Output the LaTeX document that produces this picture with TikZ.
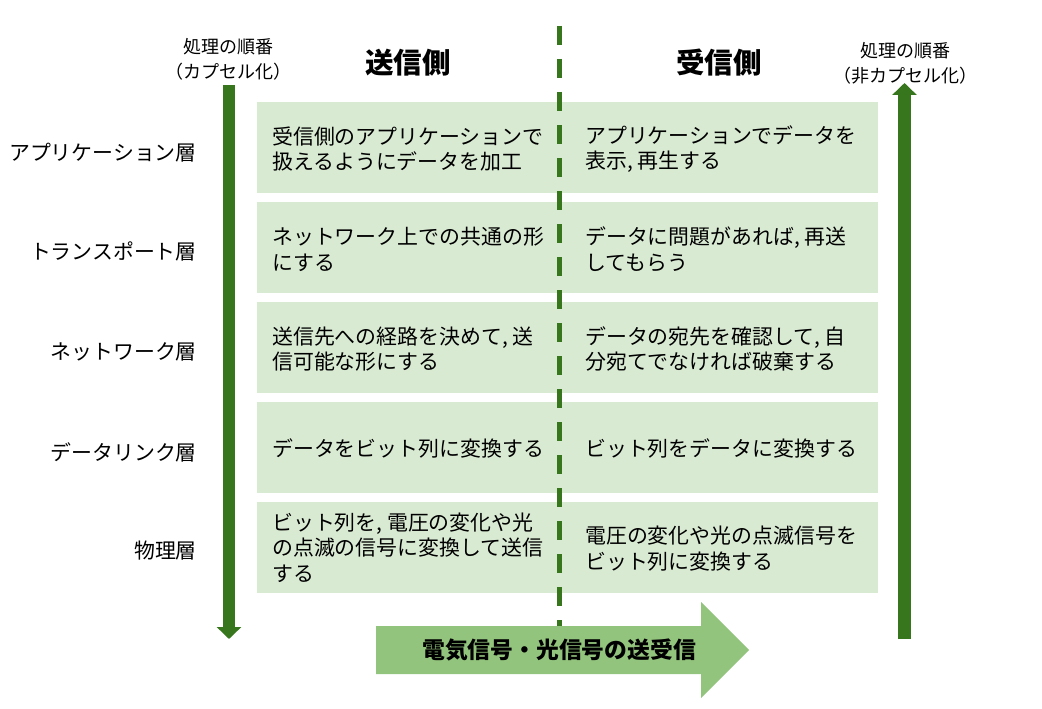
\documentclass[tikz,border=0pt]{standalone}
\usepackage{fontspec}
\setmainfont{Noto Sans CJK JP}
\usetikzlibrary{arrows.meta}
\definecolor{boxfill}{RGB}{217,234,211}
\definecolor{dkgreen}{RGB}{56,118,29}
\definecolor{arrowfill}{RGB}{147,196,125}
\begin{document}
\begin{tikzpicture}[x=1pt,y=-1pt,
  rowbox/.style={draw=none,fill=boxfill,rectangle,anchor=north west,minimum width=621pt,minimum height=91pt,inner sep=0pt},
  celltext/.style={anchor=west,align=left,inner sep=0pt,font=\fontsize{20.9}{25.5}\selectfont},
  layerlabel/.style={anchor=east,inner sep=0pt,font=\fontsize{20.9}{25}\selectfont},
  title/.style={inner sep=0pt,font=\fontsize{28.5}{30}\selectfont\bfseries},
  ordlabel/.style={inner sep=0pt,align=center,font=\fontsize{18}{25}\selectfont},
  bigarrow/.style={line width=12.5pt,draw=dkgreen,-{Triangle[width=24pt,length=12pt]}}
]
\useasboundingbox (0,0) rectangle (1042,709);
% row boxes
\node[rowbox] (r1) at (257,102) {};
\node[rowbox] (r2) at (257,202) {};
\node[rowbox] (r3) at (257,302) {};
\node[rowbox] (r4) at (257,402) {};
\node[rowbox] (r5) at (257,502) {};
% dashed divider
\coordinate (dtop) at (559.5,26);
\coordinate (dbot) at (559.5,630);
\draw[dkgreen,line width=5pt,dash pattern=on 19pt off 14pt] (dtop) -- (dbot);
% titles
\node[title] (send) at (408,63) {送信側};
\node[title] (recv) at (719,63) {受信側};
% order labels
\node[ordlabel] (ordL) at (228,59) {処理の順番\\（カプセル化）};
\node[ordlabel] (ordR) at (905,63) {処理の順番\\（非カプセル化）};
% vertical arrows
\coordinate (las) at (229,85);
\coordinate (lae) at (229,639);
\draw[bigarrow] (las) -- (lae);
\coordinate (ras) at (904.5,639);
\coordinate (rae) at (904.5,83);
\draw[bigarrow,line width=13pt] (ras) -- (rae);
% layer labels
\node[layerlabel] (l1) at (197,153) {アプリケーション層};
\node[layerlabel] (l2) at (197,251) {トランスポート層};
\node[layerlabel] (l3) at (197,352) {ネットワーク層};
\node[layerlabel] (l4) at (197,452) {データリンク層};
\node[layerlabel] (l5) at (197,551) {物理層};
% cell texts
\node[celltext] (s1) at (272,149) {受信側のアプリケーションで\\扱えるようにデータを加工};
\node[celltext] (s2) at (272,249.5) {ネットワーク上での共通の形\\にする};
\node[celltext] (s3) at (272,349) {送信先への経路を決めて, 送\\信可能な形にする};
\node[celltext] (s4) at (272,448) {データをビット列に変換する};
\node[celltext] (s5) at (272,547.5) {ビット列を, 電圧の変化や光\\の点滅の信号に変換して送信\\する};
\node[celltext] (c1) at (585,149) {アプリケーションでデータを\\表示, 再生する};
\node[celltext] (c2) at (585,249.5) {データに問題があれば, 再送\\してもらう};
\node[celltext] (c3) at (585,349) {データの宛先を確認して, 自\\分宛てでなければ破棄する};
\node[celltext] (c4) at (585,448) {ビット列をデータに変換する};
\node[celltext] (c5) at (585,548.5) {電圧の変化や光の点滅信号を\\ビット列に変換する};
% bottom arrow
\fill[arrowfill] (376,626) -- (701,626) -- (701,602) -- (749,650) -- (701,698) -- (701,674) -- (376,674) -- cycle;
\node[inner sep=0pt,font=\fontsize{22.8}{25}\selectfont\bfseries] (sig) at (559,650) {電気信号・光信号の送受信};
\end{tikzpicture}
\end{document}
